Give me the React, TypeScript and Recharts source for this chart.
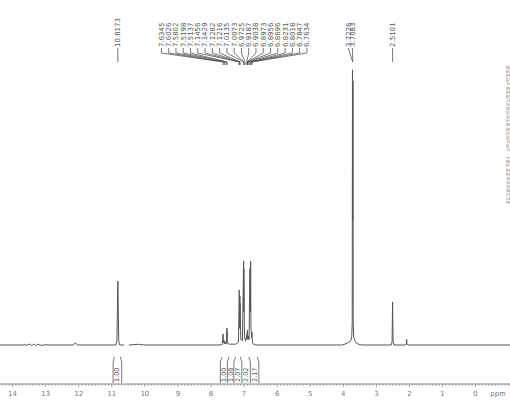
import React from 'react';
import { LineChart, Line, XAxis, YAxis, ReferenceLine, ReferenceDot } from 'recharts';

// 1H NMR trace, [ppm, intensity] (3.72 singlet = 100)
const westBaseline: [number, number | null][] = [
  [14.6, 0], [13.55, 0], [13.48, 0.35], [13.42, -0.25], [13.36, 0.3], [13.3, -0.2], [13.22, 0.25],
  [13.12, -0.15], [13.0, 0.1], [12.9, 0], [12.16, 0], [12.1, 0.8], [12.04, 0], [11.3, 0],
];
const nhRegion: [number, number | null][] = [
  [10.88, 0], [10.845, 1.5], [10.8173, 23], [10.79, 1.5], [10.76, 0], [10.63, 0], [10.56, null],
  [10.48, 0], [10.2, 0.25], [10.0, 0], [8.0, 0],
];
const aromaticRegion: [number, number | null][] = [
  [7.72, 0], [7.66, 0.2], [7.6345, 4.0], [7.625, 0.8], [7.6026, 1.6], [7.592, 0.5], [7.5802, 1.2],
  [7.55, 0.3], [7.53, 0.8], [7.5198, 6.1], [7.5165, 3.0], [7.5137, 4.6], [7.5, 0.6], [7.45, 0.3],
  [7.25, 0.3], [7.17, 1.0], [7.1456, 19.8], [7.136, 6], [7.1282, 17.6], [7.125, 8], [7.1216, 15],
  [7.1, 2], [7.05, 1.6], [7.0135, 30.2], [7.01, 12], [7.0073, 27.5], [6.99, 3], [6.9725, 2.2],
  [6.955, 1.4], [6.9187, 3.5], [6.91, 2], [6.9038, 4.6], [6.9005, 3], [6.8973, 5.4], [6.8956, 4.2],
  [6.88, 2], [6.8696, 3.2], [6.85, 2], [6.8231, 27.5], [6.812, 12], [6.8018, 30.2], [6.793, 6],
  [6.7847, 5.4], [6.775, 2.6], [6.7634, 4.6], [6.75, 1], [6.72, 0.3], [6.65, 0], [4.2, 0],
];
const methoxyRegion: [number, number | null][] = [
  [4.05, 0], [3.95, 0.3], [3.88, 0.7], [3.82, 1.1], [3.77, 1.6], [3.745, 3], [3.73, 8],
  [3.7226, 99], [3.7155, 45], [3.7083, 95], [3.7, 8], [3.685, 3], [3.66, 1.8], [3.63, 1.2],
  [3.6, 0.6], [3.54, 0.3], [3.45, 0], [2.6, 0],
];
const methylRegion: [number, number | null][] = [
  [2.55, 0], [2.525, 1.2], [2.5101, 15.5], [2.495, 1.2], [2.47, 0], [2.12, 0], [2.095, 0.4],
  [2.085, 2.0], [2.075, 0.4], [2.05, 0], [-1.3, 0],
];

// peak picking labels
const nhShift = 10.8173;
const aromaticShifts = [
  7.6345, 7.6026, 7.5802, 7.5198, 7.5137, 7.1456, 7.1429, 7.1282, 7.1216, 7.0135, 7.0073,
  6.9725, 6.9187, 6.9038, 6.8973, 6.8956, 6.8696, 6.8231, 6.8018, 6.7847, 6.7634,
];
const methoxyShifts = [3.7226, 3.7083];
const methylShift = 2.5101;

// integrals
const nhIntegral = '1.00';
const aromaticIntegrals = ['1.00', '1.08', '2.07', '2.02', '2.17'];

const axisLabels = [14, 13, 12, 11, 10, 9, 8, 7, 6, 5, 4, 3, 2, 1, 0];

// acquisition parameters (cut off at the right edge)
const paramLines = [
  'NAME', 'EXPNO', 'PROCNO', 'Date_', 'Time', 'INSTRUM', 'PROBHD', 'PULPROG', 'TD', 'SOLVENT',
  'NS', 'DS', 'SWH', 'FIDRES', 'AQ', 'RG', 'DW', 'DE', 'TE', 'D1', 'TD0', '',
  '======== CHANNEL f1', 'NUC1', 'P1', 'PL1', 'PL1W', 'SFO1', 'SI', 'SF', 'WDW', 'SSB', 'LB', 'PC',
];

const spectrum = [...westBaseline, ...nhRegion, ...aromaticRegion, ...methoxyRegion, ...methylRegion]
  .map(([ppm, i]) => ({ ppm, i }));

const X_DOMAIN: [number, number] = [-1.04, 14.38];
const Y_DOMAIN: [number, number] = [-14.03, 124.1];
const PPM_POS = -0.68;

// layout: pixel row -> data units (baseline at 345px, 2.78px per unit)
const lvl = (px: number) => (345 - px) / 2.78;

const minorTicks: number[] = [];
for (let k = -10; k <= 143; k++) minorTicks.push(k / 10);

const GREY = '#555';
const FONT = 'DejaVu Sans';

const AxisTick = ({ x, y, payload }: any) => {
  const v = payload.value;
  if (v === PPM_POS) {
    return <text x={x} y={y + 11.5} textAnchor="middle" fontSize={7} fill="#777" fontFamily={FONT}>ppm</text>;
  }
  const major = axisLabels.some((a) => Math.abs(a - v) < 1e-6);
  return (
    <g>
      <line x1={x} x2={x} y1={y} y2={y + (major ? 3 : 1.6)} stroke="#888" strokeWidth={0.8} />
      {major && (
        <text x={x} y={y + 11.5} textAnchor="middle" fontSize={7} fill="#777" fontFamily={FONT}>
          {Math.round(v)}
        </text>
      )}
    </g>
  );
};

const vText = (label: string, size = 7) => (p: any) => (
  <text
    x={p.cx}
    y={p.cy}
    dy="0.35em"
    transform={`rotate(-90, ${p.cx}, ${p.cy})`}
    textAnchor="start"
    fontSize={size}
    fill={GREY}
    fontFamily={FONT}
  >
    {label}
  </text>
);

const seg = (key: string, x1: number, y1: number, x2: number, y2: number) => (
  <ReferenceLine
    key={key}
    segment={[{ x: x1, y: y1 }, { x: x2, y: y2 }]}
    stroke={GREY}
    strokeWidth={0.8}
  />
);

export default function App() {
  const textBottom = lvl(47);
  const stemTop = lvl(48);
  const stemBottom = lvl(53);
  const fanBottom = lvl(62);
  const tipBottom = lvl(65);

  // aromatic label columns spread out above the cluster
  const firstCol = 9.5;
  const colStep = 0.22;

  const aromaticBars = [7.717, 7.505, 7.309, 7.067, 6.81, 6.553];
  const aromaticTextPos = [7.611, 7.408, 7.188, 6.946, 6.683];
  const barTop = lvl(362);
  const barHook = lvl(357);
  const barBottom = lvl(383);
  const intText = lvl(382);

  const els: React.ReactNode[] = [];

  // NH label
  els.push(<ReferenceDot key="nh-t" x={nhShift} y={textBottom} r={0} shape={vText(nhShift.toFixed(4))} />);
  els.push(seg('nh-l', nhShift, stemTop, nhShift, fanBottom));

  // aromatic fan
  aromaticShifts.forEach((s, i) => {
    const col = firstCol - colStep * i;
    els.push(<ReferenceDot key={`ar-t${i}`} x={col} y={textBottom} r={0} shape={vText(s.toFixed(4))} />);
    els.push(seg(`ar-a${i}`, col, stemTop, col, stemBottom));
    els.push(seg(`ar-b${i}`, col, stemBottom, s, fanBottom));
    els.push(seg(`ar-c${i}`, s, fanBottom, s, tipBottom));
  });

  // methoxy pair
  const meCols = [3.85, 3.72];
  methoxyShifts.forEach((s, i) => {
    els.push(<ReferenceDot key={`me-t${i}`} x={meCols[i]} y={textBottom} r={0} shape={vText(s.toFixed(4))} />);
    els.push(seg(`me-l${i}`, meCols[i], stemTop, 3.715, fanBottom));
  });

  // methyl label
  els.push(<ReferenceDot key="mt-t" x={methylShift} y={textBottom} r={0} shape={vText(methylShift.toFixed(4))} />);
  els.push(seg('mt-l', methylShift, stemTop, methylShift, fanBottom));

  // NH integral
  els.push(seg('ni-l', 10.96, barBottom, 10.96, barTop), seg('ni-lh', 10.96, barTop, 10.92, barHook));
  els.push(seg('ni-r', 10.7, barBottom, 10.7, barTop), seg('ni-rh', 10.7, barTop, 10.74, barHook));
  els.push(<ReferenceDot key="ni-t" x={10.856} y={intText} r={0} shape={vText(nhIntegral, 6.5)} />);

  // aromatic integrals
  aromaticBars.forEach((b, i) => {
    const lean = b > 7.1 ? -0.05 : 0.05;
    els.push(seg(`ai-b${i}`, b, barBottom, b, barTop), seg(`ai-h${i}`, b, barTop, b + lean, barHook));
  });
  aromaticIntegrals.forEach((v, i) => {
    els.push(<ReferenceDot key={`ai-t${i}`} x={aromaticTextPos[i]} y={intText} r={0} shape={vText(v, 6.5)} />);
  });

  return (
    <div style={{ position: 'absolute', left: 0, top: 0, width: 510, height: 402, background: '#fff' }}>
      <LineChart width={510} height={402} data={spectrum} margin={{ top: 0, right: 0, bottom: 0, left: 0 }}>
        <XAxis
          dataKey="ppm"
          type="number"
          domain={X_DOMAIN}
          reversed
          allowDataOverflow
          ticks={[...minorTicks, PPM_POS]}
          interval={0}
          tick={<AxisTick />}
          tickLine={false}
          tickSize={0}
          tickMargin={0}
          height={18}
          stroke="#888"
        />
        <YAxis hide type="number" domain={Y_DOMAIN} allowDataOverflow />
        <Line
          dataKey="i"
          type="linear"
          dot={false}
          activeDot={false}
          stroke="#555"
          strokeWidth={1}
          isAnimationActive={false}
        />
        {els}
      </LineChart>
      <svg width={510} height={402} style={{ position: 'absolute', left: 0, top: 0, pointerEvents: 'none' }}>
        {paramLines.map((t, i) => (
          <text key={i} x={506} y={69 + i * 4.1} fontSize={4.5} fill="#777" fontFamily={FONT}>
            {t}
          </text>
        ))}
      </svg>
    </div>
  );
}
